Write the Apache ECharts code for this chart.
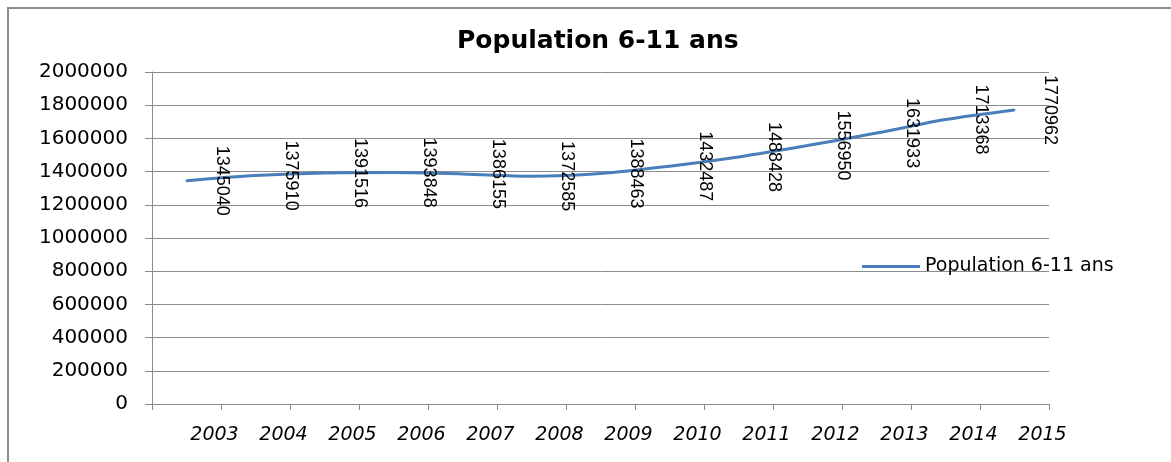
<!DOCTYPE html>
<html>
<head>
<meta charset="utf-8">
<script src="https://cdn.jsdelivr.net/npm/echarts@6/dist/echarts.min.js"></script>
<style>
  html, body { margin: 0; padding: 0; background: #fff; }
  #chart { width: 1171px; height: 462px; }
</style>
</head>
<body>
<div id="chart"></div>
<script>
var years = ['2003', '2004', '2005', '2006', '2007', '2008', '2009', '2010', '2011', '2012', '2013', '2014', '2015'];
var population = [1345040, 1375910, 1391516, 1393848, 1386155, 1372585, 1388463, 1432487, 1488428, 1556950, 1631933, 1713368, 1770962];
var seriesName = 'Population 6-11 ans';

var chart = echarts.init(document.getElementById('chart'));

var option = {
	backgroundColor: '#fff',
	animation: false,
	title: {
		text: seriesName,
		left: 452,
		top: 24,
		textStyle: {
			fontFamily: 'DejaVu Sans',
			fontWeight: 'bold',
			fontSize: 25,
			color: '#000'
		}
	},
	graphic: [{
		type: 'rect',
		shape: { x: 8, y: 8, width: 1180, height: 470 },
		style: { fill: 'none', stroke: '#8c8c8c', lineWidth: 2 },
		silent: true
	}],
	legend: {
		left: 857,
		top: 252,
		itemWidth: 58,
		itemHeight: 3,
		itemGap: 6,
		icon: 'rect',
		data: [seriesName],
		textStyle: { fontFamily: 'DejaVu Sans', fontSize: 19, color: '#000' }
	},
	grid: {
		left: 152,
		right: 122,
		top: 72,
		bottom: 58
	},
	xAxis: {
		type: 'category',
		data: years,
		boundaryGap: true,
		axisLine: { lineStyle: { color: '#8c8c8c', width: 1 } },
		axisTick: { show: true, length: 6, lineStyle: { color: '#8c8c8c' } },
		axisLabel: {
			interval: 0,
			margin: 22,
			padding: [0, 0, 0, 56],
			fontFamily: 'DejaVu Sans',
			fontStyle: 'italic',
			fontSize: 19,
			color: '#000'
		}
	},
	yAxis: {
		type: 'value',
		min: 0,
		max: 2000000,
		interval: 200000,
		axisLine: { show: true, lineStyle: { color: '#8c8c8c', width: 1 } },
		axisTick: { show: true, length: 7, lineStyle: { color: '#8c8c8c' } },
		splitLine: { lineStyle: { color: '#8c8c8c', width: 1 } },
		axisLabel: {
			margin: 24,
			fontFamily: 'DejaVu Sans',
			fontSize: 20,
			color: '#000',
			formatter: function(value) {
				return String(value);
			}
		}
	},
	series: [{
		name: seriesName,
		type: 'line',
		data: population,
		smooth: 0.3,
		symbol: 'circle',
		symbolSize: 2,
		showSymbol: true,
		showAllSymbol: true,
		lineStyle: { color: '#4a7ebb', width: 3 },
		itemStyle: { color: '#4a7ebb' },
		label: {
			show: true,
			position: [36, 1],
			align: 'center',
			verticalAlign: 'middle',
			rotate: -90,
			fontFamily: 'Liberation Sans',
			fontSize: 18,
			color: '#000'
		},
		labelLayout: { hideOverlap: false }
	}]
};

chart.setOption(option);
</script>
</body>
</html>
